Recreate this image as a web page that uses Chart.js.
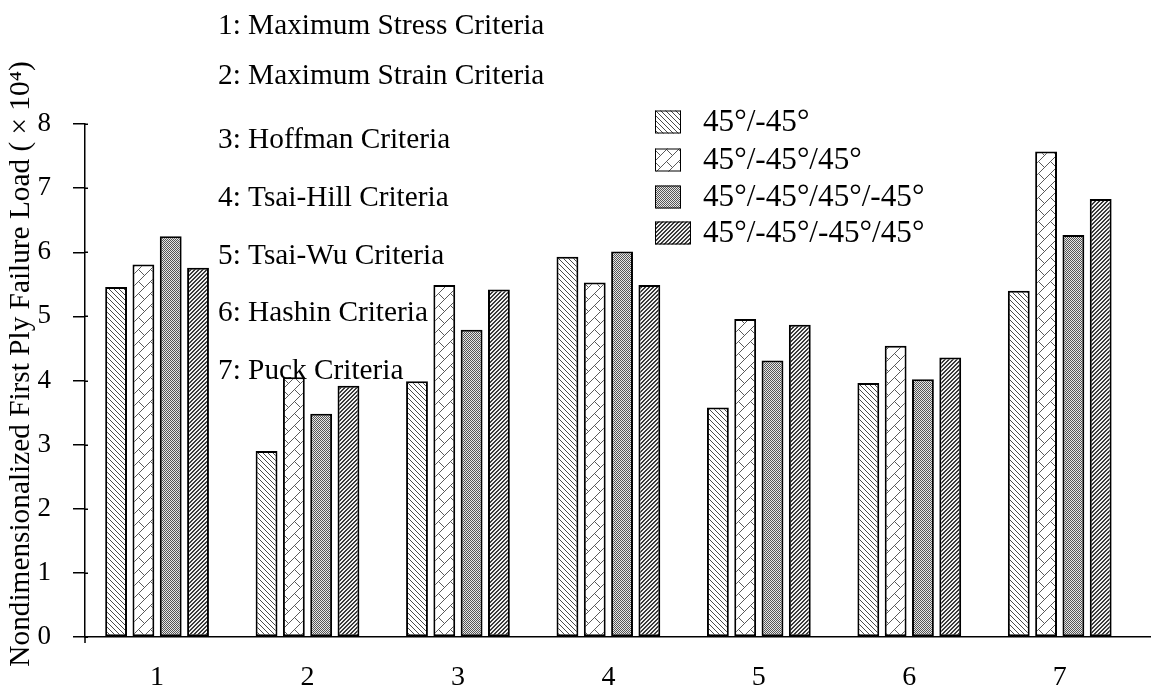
<!DOCTYPE html>
<html>
<head>
<meta charset="utf-8">
<script src="https://cdn.jsdelivr.net/npm/chart.js@4"></script>
<style>
  html, body { margin: 0; padding: 0; background: #ffffff; }
  #wrap { width: 1163px; height: 687px; }
</style>
</head>
<body>
<div id="wrap"><canvas id="chart" width="1163" height="687"></canvas></div>
<script>
// Failure criteria (x categories) and their descriptions
const criteria = ['1', '2', '3', '4', '5', '6', '7'];
const criteriaNames = [
  '1: Maximum Stress Criteria',
  '2: Maximum Strain Criteria',
  '3: Hoffman Criteria',
  '4: Tsai-Hill Criteria',
  '5: Tsai-Wu Criteria',
  '6: Hashin Criteria',
  '7: Puck Criteria'
];

// Laminate stacking sequences
const layups = ['45°/-45°', '45°/-45°/45°', '45°/-45°/45°/-45°', '45°/-45°/-45°/45°'];

// Nondimensionalized first ply failure load (x 10^4) per criterion
const load2Ply  = [5.46, 2.90, 3.99, 5.93, 3.58, 3.96, 5.40];
const load3Ply  = [5.81, 4.05, 5.49, 5.53, 4.96, 4.54, 7.57];
const load4PlyA = [6.25, 3.48, 4.79, 6.01, 4.31, 4.02, 6.27];
const load4PlyS = [5.76, 3.92, 5.42, 5.49, 4.87, 4.36, 6.83];

const yTicks = [0, 1, 2, 3, 4, 5, 6, 7, 8];
const yTitle = 'Nondimensionalized First Ply Failure Load ( × 10⁴)';

const SERIF = '"Liberation Serif", "Times New Roman", serif';

// ---- hatch fills -------------------------------------------------------
function makePattern(w, h, paint) {
  const c = document.createElement('canvas');
  c.width = w; c.height = h;
  const g = c.getContext('2d');
  paint(g, w, h);
  return g.createPattern(c, 'repeat');
}
const ctx = document.getElementById('chart').getContext('2d');

// light downward diagonal
const hatchDown = makePattern(5, 5, (g, w, h) => {
  g.fillStyle = '#ffffff'; g.fillRect(0, 0, w, h);
  g.fillStyle = '#4a4a4a';
  for (let i = 0; i < w; i++) g.fillRect(i, i, 1, 1);
});
// diagonal brick
const hatchBrick = makePattern(12, 12, (g, w, h) => {
  g.fillStyle = '#ffffff'; g.fillRect(0, 0, w, h);
  g.fillStyle = '#5a5a5a';
  for (let i = 0; i < w; i++) g.fillRect(i, h - 1 - i, 1, 1);
  for (let k = 0; k < 6; k++) g.fillRect(6 + k, 5 + k, 1, 1);
});
// fine checkerboard
const hatchCheck = makePattern(2, 2, (g) => {
  g.fillStyle = '#e6e6e6'; g.fillRect(0, 0, 2, 2);
  g.fillStyle = '#555555';
  g.fillRect(0, 0, 1, 1); g.fillRect(1, 1, 1, 1);
});
// dark upward diagonal
const hatchUp = makePattern(4, 4, (g, w, h) => {
  g.fillStyle = '#f0f0f0'; g.fillRect(0, 0, w, h);
  g.fillStyle = '#3a3a3a';
  for (let i = 0; i < h; i++) {
    g.fillRect((w - 1 - i + w) % w, i, 1, 1);
    g.fillRect((w - i + w) % w, i, 1, 1);
  }
});
const fills = [hatchDown, hatchBrick, hatchCheck, hatchUp];
const seriesValues = [load2Ply, load3Ply, load4PlyA, load4PlyS];

// ---- layout of the text blocks drawn on the plot -----------------------
const notesLayout = { x: 218, baselines: [34, 84, 148, 206, 264, 321, 379], size: 29.3 };
const keyLayout = { boxX: 655, textX: 703, rows: [122, 160, 197, 233], boxW: [26, 26, 26, 36], boxH: 23, size: 31.2 };
const titleLayout = { x: 21, y: 364, size: 29.3 };

const textBlocks = {
  id: 'textBlocks',
  afterDatasetsDraw(chart) {
    const g = chart.ctx;
    g.save();
    g.fillStyle = '#000';
    g.font = notesLayout.size + 'px ' + SERIF;
    g.textBaseline = 'alphabetic';
    g.textAlign = 'left';
    criteriaNames.forEach((t, i) => g.fillText(t, notesLayout.x, notesLayout.baselines[i]));

    g.textBaseline = 'middle';
    g.font = keyLayout.size + 'px ' + SERIF;
    chart.data.datasets.forEach((ds, i) => {
      const y = keyLayout.rows[i];
      const bw = keyLayout.boxW[i], bh = keyLayout.boxH;
      g.fillStyle = ds.backgroundColor;
      g.fillRect(keyLayout.boxX, y - bh / 2, bw, bh);
      g.strokeStyle = '#000'; g.lineWidth = 1;
      g.strokeRect(keyLayout.boxX + 0.5, y - bh / 2 + 0.5, bw - 1, bh - 1);
      g.fillStyle = '#000';
      g.fillText(ds.label, keyLayout.textX, y + 1);
    });

    // rotated value-axis title
    g.translate(titleLayout.x, titleLayout.y);
    g.rotate(-Math.PI / 2);
    g.textAlign = 'center';
    g.textBaseline = 'middle';
    g.font = titleLayout.size + 'px ' + SERIF;
    g.fillText(yTitle, 0, 0);
    g.restore();
  },
  afterDraw(chart) {
    // short inner tick stubs and the axis overhang below zero
    const g = chart.ctx, ys = chart.scales.y, x0 = chart.chartArea.left;
    g.save();
    g.strokeStyle = '#000'; g.lineWidth = 1.5;
    g.beginPath();
    yTicks.forEach(v => {
      const y = Math.round(ys.getPixelForValue(v)) + 0.25;
      g.moveTo(x0, y); g.lineTo(x0 + 3, y);
    });
    g.moveTo(x0, chart.chartArea.bottom); g.lineTo(x0, chart.chartArea.bottom + 6);
    g.stroke();
    g.restore();
  }
};

new Chart(ctx, {
  type: 'bar',
  data: {
    datasets: layups.map((name, s) => ({
      label: name,
      data: seriesValues[s].map((v, i) => ({ x: i + 1, y: v })),
      backgroundColor: fills[s],
      borderColor: '#000000',
      borderWidth: 2,
      borderSkipped: false
    }))
  },
  options: {
    responsive: false,
    animation: false,
    devicePixelRatio: 1,
    layout: { padding: { top: 124, right: 13, left: 0, bottom: 0 } },
    datasets: { bar: { categoryPercentage: 0.726, barPercentage: 0.8, grouped: true } },
    plugins: { legend: { display: false }, tooltip: { enabled: false } },
    scales: {
      x: {
        type: 'linear',
        min: 0.521,
        max: 7.6,
        offset: false,
        afterBuildTicks: (s) => { s.ticks = criteria.map((c, i) => ({ value: i + 1 })); },
        afterFit: (s) => { s.height = 50; },
        grid: { display: false, drawTicks: false },
        border: { display: true, color: '#000', width: 1.5 },
        ticks: {
          color: '#000',
          font: { family: SERIF, size: 28 },
          padding: 24,
          autoSkip: false,
          maxRotation: 0,
          callback: (v) => criteria[v - 1]
        }
      },
      y: {
        min: 0,
        max: 8,
        afterBuildTicks: (s) => { s.ticks = yTicks.map(v => ({ value: v })); },
        afterFit: (s) => { s.width = 85; },
        grid: { drawOnChartArea: false, drawTicks: true, tickLength: 12, color: '#000', lineWidth: 1.5 },
        border: { display: true, color: '#000', width: 1.5 },
        ticks: { color: '#000', font: { family: SERIF, size: 27 }, padding: 22 },
        title: { display: false }
      }
    }
  },
  plugins: [textBlocks]
});
</script>
</body>
</html>
